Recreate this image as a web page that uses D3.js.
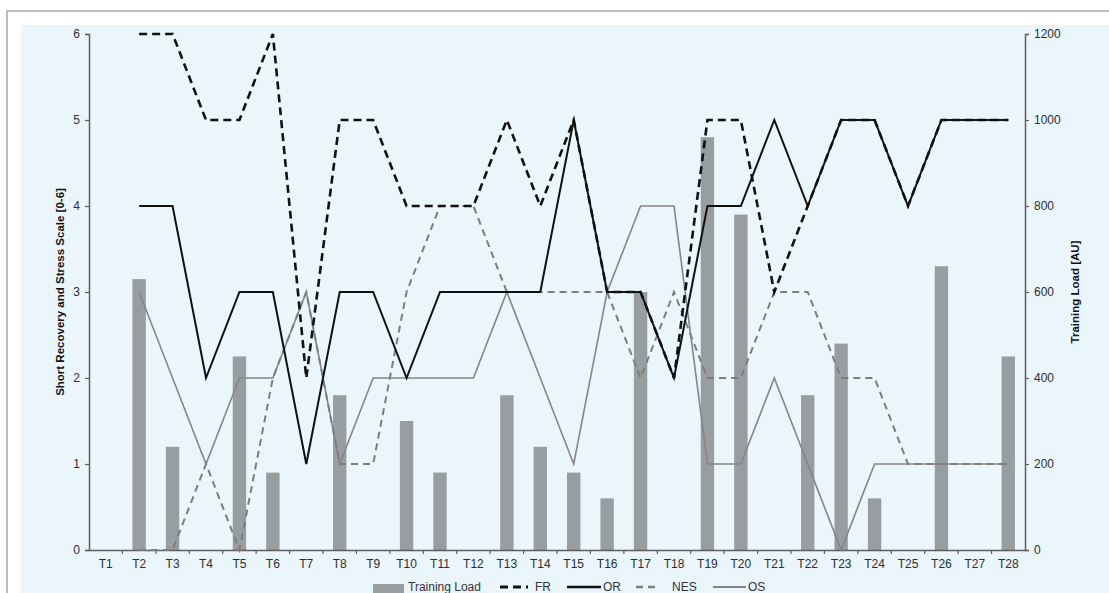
<!DOCTYPE html>
<html>
<head>
<meta charset="utf-8">
<script src="https://cdn.jsdelivr.net/npm/d3@7"></script>
<style>
  body { margin: 0; background: #fff; }
  svg { display: block; font-family: Arial, "Liberation Sans", sans-serif; }
</style>
</head>
<body>
<svg id="chart" width="1109" height="593"></svg>
<script>
// data
var sessions = ["T1","T2","T3","T4","T5","T6","T7","T8","T9","T10","T11","T12","T13","T14",
  "T15","T16","T17","T18","T19","T20","T21","T22","T23","T24","T25","T26","T27","T28"];
var trainingLoad = [0,630,240,0,450,180,0,360,0,300,180,0,360,240,180,120,600,0,960,780,0,360,480,120,0,660,0,450];
var frValues  = [null,6,6,5,5,6,2,5,5,4,4,4,5,4,5,3,3,2,5,5,3,4,5,5,4,5,5,5];
var orValues  = [null,4,4,2,3,3,1,3,3,2,3,3,3,3,5,3,3,2,4,4,5,4,5,5,4,5,5,5];
var nesValues = [null,0,0,1,0,2,3,1,1,3,4,4,3,3,3,3,2,3,2,2,3,3,2,2,1,1,1,1];
var osValues  = [null,3,2,1,2,2,3,1,2,2,2,2,3,2,1,3,4,4,1,1,2,1,0,1,1,1,1,1];
var leftTicks = [0,1,2,3,4,5,6];
var rightTicks = [0,200,400,600,800,1000,1200];

var svg = d3.select("#chart");

// frame + light blue panel
svg.append("rect").attr("x", 7).attr("y", 11).attr("width", 1120).attr("height", 600)
  .attr("fill", "#fff").attr("stroke", "#a6a6a6").attr("stroke-width", 1.5);
svg.append("rect").attr("x", 21).attr("y", 25).attr("width", 1100).attr("height", 580)
  .attr("fill", "#eaf5fc");

var x = d3.scaleBand().domain(sessions).range([89, 1025]).padding(0);
var yL = d3.scaleLinear().domain([0, 6]).range([550, 34]);
var yR = d3.scaleLinear().domain([0, 1200]).range([550, 34]);

// bars
var bw = x.bandwidth() * 0.4;
svg.append("g").selectAll("rect").data(trainingLoad).join("rect")
  .attr("x", function(d, i) { return x(sessions[i]) + (x.bandwidth() - bw) / 2; })
  .attr("y", function(d) { return yR(d); })
  .attr("width", bw)
  .attr("height", function(d) { return yR(0) - yR(d); })
  .attr("fill", "#989d9f");

// axes
var axisColor = "#5e5e5e";
var gl = svg.append("g").attr("transform", "translate(89,0)")
  .call(d3.axisLeft(yL).tickValues(leftTicks).tickSize(4).tickPadding(5).tickFormat(d3.format("d")));
var gr = svg.append("g").attr("transform", "translate(1025,0)")
  .call(d3.axisRight(yR).tickValues(rightTicks).tickSize(4).tickPadding(5).tickFormat(d3.format("d")));
var gb = svg.append("g").attr("transform", "translate(0,550)")
  .call(d3.axisBottom(x).tickSize(0).tickPadding(9));

[gl, gr, gb].forEach(function(g) {
  g.select(".domain").attr("stroke", axisColor).attr("stroke-width", 1.5);
  g.selectAll(".tick line").attr("stroke", axisColor).attr("stroke-width", 1.2);
  g.selectAll(".tick text").attr("fill", "#2e2e2e").style("font-size", "12px")
    .style("font-family", "Arial, 'Liberation Sans', sans-serif");
});

// ticks between categories
var bounds = sessions.slice(1).map(function(s) { return x(s); });
gb.selectAll(".bound").data(bounds).join("line")
  .attr("x1", function(d) { return d; }).attr("x2", function(d) { return d; })
  .attr("y1", 0).attr("y2", 4).attr("stroke", axisColor).attr("stroke-width", 1.2);

// axis titles
svg.append("text").attr("transform", "translate(64,292) rotate(-90)")
  .attr("text-anchor", "middle").style("font-size", "11.5px").style("font-weight", "bold")
  .attr("fill", "#111").text("Short Recovery and Stress Scale [0-6]");
svg.append("text").attr("transform", "translate(1079,292) rotate(-90)")
  .attr("text-anchor", "middle").style("font-size", "11.5px").style("font-weight", "bold")
  .attr("fill", "#111").text("Training Load [AU]");

// lines
var series = [
  { name: "FR",  values: frValues,  color: "#111", width: 2.6, dash: "8,5" },
  { name: "OR",  values: orValues,  color: "#111", width: 2,   dash: null },
  { name: "NES", values: nesValues, color: "#7d7d7d", width: 2, dash: "7,5" },
  { name: "OS",  values: osValues,  color: "#858585", width: 1.6, dash: null }
];

var line = d3.line()
  .defined(function(d) { return d != null; })
  .x(function(d, i) { return x(sessions[i]) + x.bandwidth() / 2; })
  .y(function(d) { return yL(d); });

series.slice().reverse().forEach(function(s) {
  svg.append("path").datum(s.values)
    .attr("d", line)
    .attr("fill", "none")
    .attr("stroke", s.color)
    .attr("stroke-width", s.width)
    .attr("stroke-dasharray", s.dash);
});

// legend, at the bottom edge
var lg = svg.append("g").style("font-size", "12px").attr("fill", "#333");
lg.append("rect").attr("x", 373).attr("y", 584).attr("width", 31).attr("height", 9).attr("fill", "#989d9f");
lg.append("text").attr("x", 408).attr("y", 591).text("Training Load");
var legendItems = [
  { s: series[0], x1: 500, x2: 528, tx: 535 },
  { s: series[1], x1: 567, x2: 601, tx: 603 },
  { s: series[2], x1: 636, x2: 656, tx: 672 },
  { s: series[3], x1: 713, x2: 746, tx: 748 }
];
legendItems.forEach(function(it) {
  lg.append("line").attr("x1", it.x1).attr("x2", it.x2).attr("y1", 587).attr("y2", 587)
    .attr("stroke", it.s.color).attr("stroke-width", it.s.width + 0.6)
    .attr("stroke-dasharray", it.s.dash);
  lg.append("text").attr("x", it.tx).attr("y", 591).text(it.s.name);
});
</script>
</body>
</html>
